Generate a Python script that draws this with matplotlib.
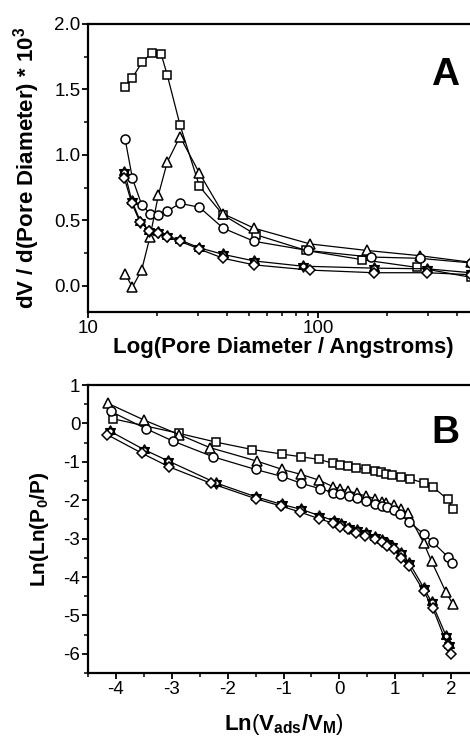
import numpy as np
import matplotlib
matplotlib.use("Agg")
import matplotlib.pyplot as plt
from matplotlib.path import Path
from matplotlib.ticker import MultipleLocator, LogLocator, NullFormatter, FixedLocator

plt.rcParams["font.family"] = ["Liberation Sans", "DejaVu Sans"]
plt.rcParams["mathtext.fontset"] = "custom"
plt.rcParams["mathtext.rm"] = "Liberation Sans"
plt.rcParams["mathtext.bf"] = "Liberation Sans:bold"
plt.rcParams["mathtext.it"] = "Liberation Sans:italic"

# ---------------- Panel A: pore size distribution ----------------
a_sq_d = [14.5, 15.6, 17.2, 19.0, 20.8, 22.1, 25.1, 30.5, 38.7, 53.7, 88.7, 155, 270, 460]
a_sq_v = [1.52, 1.59, 1.71, 1.78, 1.77, 1.61, 1.23, 0.76, 0.54, 0.39, 0.27, 0.20, 0.14, 0.065]

a_tri_d = [14.5, 15.6, 17.1, 18.6, 20.2, 22.1, 25.1, 30.5, 38.7, 52.7, 92.2, 163, 277, 460]
a_tri_v = [0.09, -0.01, 0.12, 0.375, 0.69, 0.945, 1.14, 0.86, 0.55, 0.44, 0.32, 0.27, 0.23, 0.18]

a_cir_d = [14.5, 15.6, 17.1, 18.6, 20.2, 22.1, 25.1, 30.5, 38.7, 52.7, 90.2, 169, 277, 460]
a_cir_v = [1.12, 0.82, 0.62, 0.55, 0.54, 0.57, 0.63, 0.60, 0.44, 0.34, 0.27, 0.22, 0.21, 0.175]

a_star_d = [14.4, 15.5, 16.9, 18.5, 20.2, 22.1, 25.1, 30.5, 38.7, 52.7, 85.7, 175, 297, 460]
a_star_v = [0.87, 0.65, 0.49, 0.42, 0.41, 0.38, 0.35, 0.29, 0.24, 0.19, 0.15, 0.135, 0.13, 0.10]

a_dia_d = [14.4, 15.5, 16.8, 18.5, 20.2, 22.1, 25.1, 30.5, 38.7, 52.7, 92.2, 175, 297, 460]
a_dia_v = [0.82, 0.63, 0.49, 0.42, 0.40, 0.37, 0.34, 0.28, 0.21, 0.16, 0.12, 0.10, 0.10, 0.085]

# ---------------- Panel B: Ln(Ln(P0/P)) vs Ln(Vads/VM) ----------------
b_sq_x = [-4.05, -2.87, -2.20, -1.56, -1.02, -0.68, -0.36, -0.11, 0.01, 0.15, 0.30, 0.47,
          0.64, 0.74, 0.84, 0.95, 1.10, 1.26, 1.51, 1.67, 1.94, 2.03]
b_sq_y = [0.12, -0.26, -0.49, -0.68, -0.80, -0.87, -0.94, -1.04, -1.08, -1.11, -1.15, -1.20,
          -1.24, -1.27, -1.31, -1.35, -1.39, -1.44, -1.55, -1.65, -1.98, -2.22]

b_tri_x = [-4.14, -3.50, -2.87, -2.32, -1.48, -1.02, -0.68, -0.36, -0.11, 0.01, 0.16, 0.31,
           0.47, 0.64, 0.76, 0.84, 0.98, 1.10, 1.22, 1.51, 1.65, 1.91, 2.03]
b_tri_y = [0.52, 0.09, -0.29, -0.63, -0.98, -1.20, -1.33, -1.48, -1.65, -1.70, -1.76, -1.82,
           -1.89, -1.96, -2.05, -2.08, -2.13, -2.22, -2.33, -3.11, -3.59, -4.40, -4.70]

b_cir_x = [-4.09, -3.46, -2.98, -2.26, -1.50, -1.03, -0.68, -0.35, -0.11, 0.02, 0.17, 0.31,
           0.47, 0.64, 0.77, 0.86, 0.98, 1.09, 1.25, 1.52, 1.67, 1.94, 2.02]
b_cir_y = [0.31, -0.14, -0.46, -0.87, -1.20, -1.38, -1.56, -1.70, -1.80, -1.85, -1.89, -1.94,
           -2.02, -2.10, -2.15, -2.19, -2.25, -2.37, -2.57, -2.89, -3.09, -3.47, -3.63]

b_star_x = [-4.11, -3.50, -3.06, -2.21, -1.50, -1.03, -0.68, -0.36, -0.09, 0.03, 0.18, 0.31,
            0.47, 0.64, 0.77, 0.86, 0.95, 1.10, 1.25, 1.51, 1.65, 1.91, 1.97]
b_star_y = [-0.20, -0.68, -0.98, -1.55, -1.91, -2.11, -2.24, -2.40, -2.54, -2.63, -2.72, -2.78,
            -2.86, -2.95, -3.04, -3.11, -3.20, -3.37, -3.63, -4.28, -4.65, -5.53, -5.78]

b_dia_x = [-4.16, -3.53, -3.05, -2.30, -1.50, -1.05, -0.70, -0.37, -0.11, 0.02, 0.16, 0.30,
           0.46, 0.63, 0.76, 0.86, 0.97, 1.10, 1.24, 1.51, 1.67, 1.94, 2.00]
b_dia_y = [-0.29, -0.78, -1.13, -1.56, -1.96, -2.15, -2.31, -2.48, -2.60, -2.69, -2.76, -2.85,
           -2.92, -3.00, -3.09, -3.18, -3.28, -3.50, -3.72, -4.37, -4.80, -5.80, -6.00]

# six-pointed star marker: two overlapping triangles, both outlines drawn
_up = [(0.0, 1.0), (-0.866, -0.5), (0.866, -0.5), (0.0, 1.0)]
_dn = [(0.0, -1.0), (0.866, 0.5), (-0.866, 0.5), (0.0, -1.0)]
hexagram = Path(_up + _dn,
                [Path.MOVETO, Path.LINETO, Path.LINETO, Path.CLOSEPOLY] * 2)

styles = {
    "sq": dict(marker="s", ms=6.0),
    "tri": dict(marker="^", ms=7.5),
    "cir": dict(marker="o", ms=6.5),
    "star": dict(marker=hexagram, ms=8.0),
    "dia": dict(marker="D", ms=5.5),
}
common = dict(color="black", lw=0.9, mfc="white", mec="black", mew=1.1, clip_on=True)

TICK_FS = 13.5
LABEL_FS = 16

fig = plt.figure(figsize=(4.70, 7.36), dpi=100)
axA = fig.add_axes([88 / 470, 1 - 312 / 736, 391 / 470, 288 / 736])
axB = fig.add_axes([88 / 470, 1 - 673 / 736, 391 / 470, 288 / 736])

seriesA = [("sq", a_sq_d, a_sq_v), ("tri", a_tri_d, a_tri_v), ("cir", a_cir_d, a_cir_v),
           ("star", a_star_d, a_star_v), ("dia", a_dia_d, a_dia_v)]
for key, xs, ys in seriesA:
    axA.plot(xs, ys, **styles[key], **common)

seriesB = [("sq", b_sq_x, b_sq_y), ("tri", b_tri_x, b_tri_y), ("cir", b_cir_x, b_cir_y),
           ("star", b_star_x, b_star_y), ("dia", b_dia_x, b_dia_y)]
for key, xs, ys in seriesB:
    axB.plot(xs, ys, **styles[key], **common)

# axes styling
for ax in (axA, axB):
    for side in ("left", "bottom", "top", "right"):
        ax.spines[side].set_linewidth(1.6)
    ax.tick_params(which="major", direction="out", length=4.5, width=1.3,
                   labelsize=TICK_FS, pad=1.0, top=False, right=False)
    ax.tick_params(which="minor", direction="out", length=3, width=1.1,
                   top=False, right=False)

axA.set_xscale("log")
axA.set_xlim(10, 500)
axA.set_ylim(-0.2, 2.0)
axA.xaxis.set_major_locator(FixedLocator([10, 100]))
axA.set_xticklabels(["10", "100"])
axA.xaxis.set_minor_locator(LogLocator(base=10, subs=np.arange(2, 10)))
axA.xaxis.set_minor_formatter(NullFormatter())
axA.yaxis.set_major_locator(MultipleLocator(0.5))
axA.yaxis.set_minor_locator(MultipleLocator(0.25))
axA.yaxis.set_major_formatter(plt.FuncFormatter(lambda v, p: f"{v:.1f}"))

axB.set_xlim(-4.5, 2.5)
axB.set_ylim(-6.5, 1.0)
axB.xaxis.set_major_locator(MultipleLocator(1))
axB.xaxis.set_minor_locator(MultipleLocator(0.5))
axB.yaxis.set_major_locator(MultipleLocator(1))
axB.yaxis.set_minor_locator(MultipleLocator(0.5))
axB.xaxis.set_major_formatter(plt.FuncFormatter(lambda v, p: f"{v:g}"))
axB.yaxis.set_major_formatter(plt.FuncFormatter(lambda v, p: f"{v:g}"))

# labels
axA.set_xlabel("Log(Pore Diameter / Angstroms)", fontsize=LABEL_FS, fontweight="bold")
axA.xaxis.set_label_coords(0.5, -0.088)
axA.set_ylabel(r"dV / d(Pore Diameter) * 10$^{\mathbf{3}}$", fontsize=LABEL_FS,
               fontweight="bold")
axA.yaxis.set_label_coords(-0.117, 0.5)

axB.set_xlabel(r"$\mathbf{Ln}$($\mathbf{V_{ads}/V_{M}}$)", fontsize=LABEL_FS)
axB.xaxis.set_label_coords(0.5, -0.135)
axB.set_ylabel(r"Ln(Ln(P$_{\mathbf{0}}$/P)", fontsize=15, fontweight="bold")
axB.yaxis.set_label_coords(-0.094, 0.5)

axA.text(445 / 470, 1 - 75 / 736, "A", transform=fig.transFigure, fontsize=28,
         fontweight="bold", ha="center", va="center")
axB.text(445 / 470, 1 - 433 / 736, "B", transform=fig.transFigure, fontsize=28,
         fontweight="bold", ha="center", va="center")

fig.savefig("out.png", dpi=100)
